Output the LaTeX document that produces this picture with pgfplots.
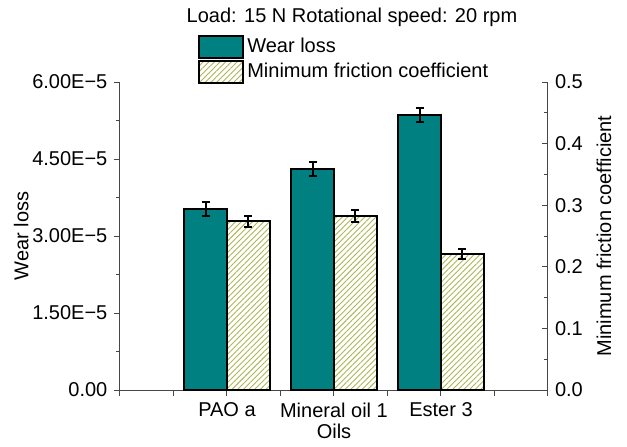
\documentclass[border=0pt]{standalone}
\usepackage{fontspec}
\setmainfont{Liberation Sans}
\usepackage{pgfplots}
\pgfplotsset{compat=1.18}
\usetikzlibrary{patterns.meta}

\definecolor{wearteal}{RGB}{0,128,128}
\definecolor{hatchcol}{RGB}{175,182,85}
\definecolor{axisgray}{RGB}{70,70,70}

\newcommand{\chartfont}{\fontsize{10}{12}\selectfont}

\pgfplotsset{
  common/.style={
    scale only axis, width=214pt, height=154pt,
    at={(0,0)}, anchor=south west,
    xmin=0, xmax=4,
    axis line style={axisgray, line width=0.5pt},
    tick style={axisgray, line width=0.5pt},
    major tick length=2.8pt, minor tick length=2pt,
    tick label style={font=\chartfont},
    label style={font=\chartfont},
    /pgf/number format/assume math mode=true,
    clip=false,
  },
  wearbar/.style={ybar, bar width=0.4, bar shift=0pt,
    fill=wearteal, draw=black, line width=1pt},
  hatchbar/.style={ybar, bar width=0.4, bar shift=0pt,
    fill=white, draw=black, line width=1pt,
    postaction={pattern={Lines[angle=45,distance=2pt,line width=0.45pt]},
                pattern color=hatchcol}},
  errstyle/.style={
    error bars/y dir=both, error bars/y explicit,
    error bars/error bar style={line width=1pt, black},
    error bars/error mark options={rotate=90, mark size=2pt, line width=1pt, black}},
}

% wear loss, bars left of each category
\pgfplotstableread{
x    y         e
0.8  3.52e-5   0.137e-5
1.8  4.30e-5   0.137e-5
2.8  5.36e-5   0.137e-5
}\weartable
% minimum friction coefficient, bars right of each category
\pgfplotstableread{
x    y      e
1.2  0.274  0.0090
2.2  0.282  0.0095
3.2  0.221  0.0085
}\frictiontable

\begin{document}
\begin{tikzpicture}
\begin{axis}[common,
  axis x line*=bottom, axis y line*=left,
  tick align=outside,
  ymin=0, ymax=6e-5,
  scaled y ticks=false,
  ytick={0,1.5e-5,3e-5,4.5e-5,6e-5},
  yticklabels={0.00,1.50E−5,3.00E−5,4.50E−5,6.00E−5},
  minor ytick={0.75e-5,2.25e-5,3.75e-5,5.25e-5},
  xtick={0,0.5,1,1.5,2,2.5,3,3.5,4},
  xticklabels={,,PAO a,,Mineral oil 1,,Ester 3,,},
  xlabel={Oils}, ylabel={Wear loss},
  xlabel shift=-3.5pt, ylabel shift=-5pt,
  legend style={draw=none, fill=none, inner sep=0pt,
    at={(axis description cs:0.182,1.155)}, anchor=north west,
    font=\chartfont, row sep=0.5pt,
    nodes={inner sep=1.5pt}},
  legend cell align=left,
]
\addplot[forget plot, wearbar, errstyle]
  table[x=x, y=y, y error=e] {\weartable};
\addlegendimage{legend image code/.code={
  \draw[fill=wearteal, draw=black, line width=1pt] (0pt,-5.5pt) rectangle (22pt,5.5pt);}}
\addlegendentry{Wear loss}
\addlegendimage{legend image code/.code={
  \draw[fill=white, draw=black, line width=1pt,
    postaction={pattern={Lines[angle=45,distance=2pt,line width=0.45pt]},
                pattern color=hatchcol}] (0pt,-5.5pt) rectangle (22pt,5.5pt);}}
\addlegendentry{Minimum friction coefficient}
\end{axis}

\begin{axis}[common,
  axis x line=none, axis y line*=right,
  tick align=inside,
  ymin=0, ymax=0.5,
  ytick={0,0.1,0.2,0.3,0.4,0.5},
  minor ytick={0.05,0.15,0.25,0.35,0.45},
  yticklabel style={/pgf/number format/.cd, fixed, fixed zerofill, precision=1},
  ylabel={Minimum friction coefficient},
]
\addplot[hatchbar, errstyle]
  table[x=x, y=y, y error=e] {\frictiontable};
\end{axis}

\node[font=\chartfont] at (116pt,186.5pt) {Load: 15 N Rotational speed: 20 rpm};

\pgfresetboundingbox
\path[use as bounding box] (-60pt,-28pt) rectangle (253.5pt,195pt);
\end{tikzpicture}
\end{document}
